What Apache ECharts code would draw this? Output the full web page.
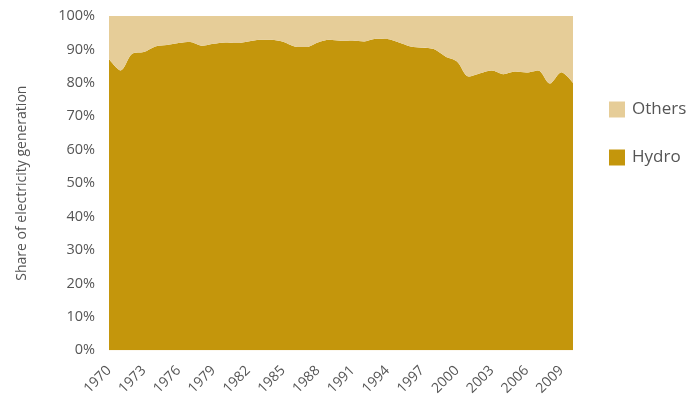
<!DOCTYPE html>
<html><head><meta charset="utf-8">
<script src="https://cdn.jsdelivr.net/npm/echarts@6/dist/echarts.min.js"></script>
<style>html,body{margin:0;padding:0;background:#fff}#c{width:686px;height:398px}</style>
</head><body><div id="c"></div>
<script>
const years = [];
for (let y = 1970; y <= 2010; y++) years.push(String(y));
const hydro = [87.1,83.7,88.7,89.2,90.9,91.3,91.9,92.2,91.1,91.7,
  92.1,91.9,92.4,92.9,92.9,92.3,90.9,90.7,92.1,92.9,
  92.6,92.7,92.4,93.2,93.1,92.1,90.9,90.5,90.1,87.9,
  86.4,81.9,82.9,83.7,82.6,83.4,83.1,83.7,79.8,83.2,80.0];
const others = hydro.map(v => +(100 - v).toFixed(1));
const yTicks = [0,10,20,30,40,50,60,70,80,90,100];

const chart = echarts.init(document.getElementById('c'));
const font = "'Open Sans', 'Noto Sans', sans-serif";
chart.setOption({
  animation: false,
  grid: {left: 109, right: 113, top: 16, bottom: 46},
  legend: {
    orient: 'vertical', left: 604, top: 96, itemGap: 31,
    itemWidth: 16, itemHeight: 16, icon: 'rect', itemStyle: {borderWidth: 0},
    textStyle: {fontSize: 17, color: '#555', fontFamily: font, padding: [0,0,0,2]},
    data: ['Others', 'Hydro']
  },
  xAxis: {
    type: 'category', data: years, boundaryGap: false,
    axisLine: {show: false}, axisTick: {show: false},
    axisLabel: {
      interval: (i) => i % 3 === 0 && i < 40, rotate: 45,
      fontSize: 14, color: '#555', fontFamily: font, margin: 18
    }
  },
  yAxis: {
    type: 'value', min: 0, max: 100, interval: 10,
    name: 'Share of electricity generation', nameLocation: 'middle', nameGap: 80,
    nameTextStyle: {fontSize: 14, color: '#555', fontFamily: font},
    axisLine: {show: false}, axisTick: {show: false}, splitLine: {show: false},
    axisLabel: {formatter: v => yTicks.includes(v) ? v + '%' : '', fontSize: 14.5, color: '#555', fontFamily: font, margin: 14}
  },
  series: [
    {name: 'Hydro', type: 'line', stack: 's', data: hydro, smooth: 0.3, symbol: 'none',
     lineStyle: {width: 0}, itemStyle: {color: '#C4960C'}, areaStyle: {color: '#C4960C', opacity: 1}},
    {name: 'Others', type: 'line', stack: 's', data: others, smooth: 0.3, symbol: 'none',
     lineStyle: {width: 0}, itemStyle: {color: '#E6CD98'}, areaStyle: {color: '#E6CD98', opacity: 1}}
  ]
});
</script></body></html>
